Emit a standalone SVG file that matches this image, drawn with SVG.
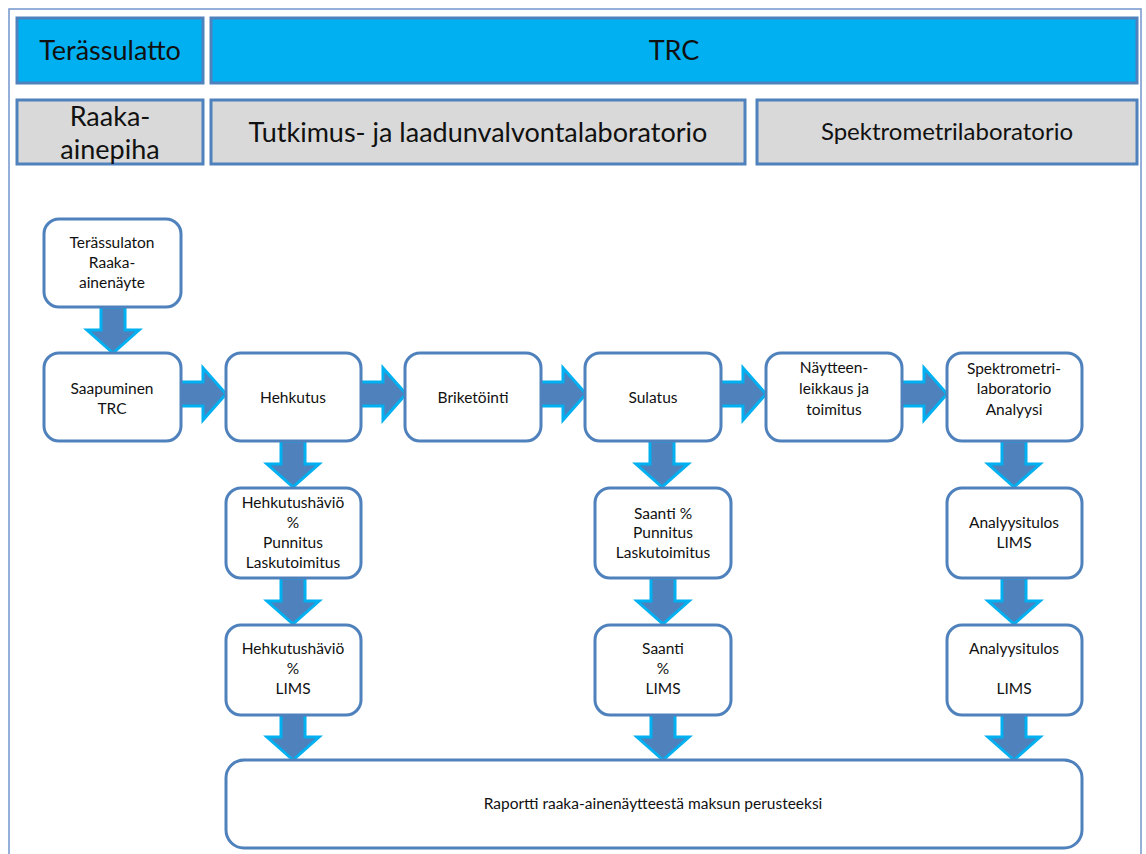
<svg xmlns="http://www.w3.org/2000/svg" xmlns:xlink="http://www.w3.org/1999/xlink" width="1146" height="854" viewBox="0 0 1146 854">
  <style>
    .frame { fill: #ffffff; stroke: #7396CB; stroke-width: 1.5; }
    .hdr { fill: #00B0F0; stroke: #4F81BD; stroke-width: 3; }
    .sub { fill: #D9D9D9; stroke: #4F81BD; stroke-width: 3; }
    .node { fill: #ffffff; stroke: #4F81BD; stroke-width: 3; }
    .arrow { fill: #4F81BD; stroke: #00B0F0; stroke-width: 3; stroke-linejoin: miter; }
    text { font-family: Lato, "Open Sans", "Liberation Sans", sans-serif; fill: #111111; text-anchor: middle; }
    .big { font-size: 27px; }
    .mid { font-size: 24px; }
    .sm { font-size: 15.5px; }
  </style>
  <defs>
    <!-- block arrow pointing down, 46px long, origin at the tail centre -->
    <path id="blk" class="arrow" d="M-12,0 H12 V23 H26 L0,46 L-26,23 H-12 Z"/>
  </defs>

  <rect class="frame" x="9" y="9" width="1132" height="860"/>

  <!-- organisation headers -->
  <g id="hdr-terassulatto">
    <rect class="hdr" x="17" y="18" width="186" height="65"/>
    <text class="big" x="110" y="60">Terässulatto</text>
  </g>
  <g id="hdr-trc">
    <rect class="hdr" x="211" y="18" width="926" height="65"/>
    <text class="big" x="674" y="60">TRC</text>
  </g>
  <g id="hdr-raaka">
    <rect class="sub" x="17" y="100" width="186" height="64"/>
    <text class="big" x="110" y="126">Raaka-</text>
    <text class="big" x="110" y="159">ainepiha</text>
  </g>
  <g id="hdr-tutkimus">
    <rect class="sub" x="211" y="100" width="534" height="64"/>
    <text class="big" x="478" y="142">Tutkimus- ja laadunvalvontalaboratorio</text>
  </g>
  <g id="hdr-spektro">
    <rect class="sub" x="757" y="100" width="380" height="64"/>
    <text class="mid" x="947" y="140">Spektrometrilaboratorio</text>
  </g>

  <!-- connectors -->
  <g id="connectors">
    <use xlink:href="#blk" transform="translate(113,307)"/>
    <use xlink:href="#blk" transform="translate(293,441)"/>
    <use xlink:href="#blk" transform="translate(293,578)"/>
    <use xlink:href="#blk" transform="translate(293,714)"/>
    <use xlink:href="#blk" transform="translate(662,441)"/>
    <use xlink:href="#blk" transform="translate(663,578)"/>
    <use xlink:href="#blk" transform="translate(663,714)"/>
    <use xlink:href="#blk" transform="translate(1014,441)"/>
    <use xlink:href="#blk" transform="translate(1014,578)"/>
    <use xlink:href="#blk" transform="translate(1014,714)"/>
    <use xlink:href="#blk" transform="translate(180,394) rotate(-90)"/>
    <use xlink:href="#blk" transform="translate(360,394) rotate(-90)"/>
    <use xlink:href="#blk" transform="translate(540,394) rotate(-90)"/>
    <use xlink:href="#blk" transform="translate(720,394) rotate(-90)"/>
    <use xlink:href="#blk" transform="translate(901,394) rotate(-90)"/>
  </g>

  <!-- process steps -->
  <g id="n-nayte">
    <rect class="node" x="44" y="219" width="137" height="88" rx="15"/>
    <text class="sm" x="112" y="248">Terässulaton</text>
    <text class="sm" x="112" y="268">Raaka-</text>
    <text class="sm" x="112" y="288">ainenäyte</text>
  </g>
  <g id="n-saapuminen">
    <rect class="node" x="44" y="353" width="137" height="88" rx="15"/>
    <text class="sm" x="112" y="394">Saapuminen</text>
    <text class="sm" x="112" y="414">TRC</text>
  </g>
  <g id="n-hehkutus">
    <rect class="node" x="226" y="353" width="135" height="88" rx="15"/>
    <text class="sm" x="293" y="403">Hehkutus</text>
  </g>
  <g id="n-briketointi">
    <rect class="node" x="405" y="353" width="136" height="88" rx="15"/>
    <text class="sm" x="473" y="403">Briketöinti</text>
  </g>
  <g id="n-sulatus">
    <rect class="node" x="585" y="353" width="136" height="88" rx="15"/>
    <text class="sm" x="653" y="403">Sulatus</text>
  </g>
  <g id="n-leikkaus">
    <rect class="node" x="766" y="353" width="136" height="88" rx="15"/>
    <text class="sm" x="834" y="373">Näytteen-</text>
    <text class="sm" x="834" y="394">leikkaus ja</text>
    <text class="sm" x="834" y="415">toimitus</text>
  </g>
  <g id="n-analyysi">
    <rect class="node" x="947" y="353" width="135" height="88" rx="15"/>
    <text class="sm" x="1014" y="374">Spektrometri-</text>
    <text class="sm" x="1014" y="394">laboratorio</text>
    <text class="sm" x="1014" y="415">Analyysi</text>
  </g>
  <g id="n-havio">
    <rect class="node" x="226" y="488" width="135" height="90" rx="15"/>
    <text class="sm" x="293" y="508">Hehkutushäviö</text>
    <text class="sm" x="293" y="528">%</text>
    <text class="sm" x="293" y="548">Punnitus</text>
    <text class="sm" x="293" y="568">Laskutoimitus</text>
  </g>
  <g id="n-havio-lims">
    <rect class="node" x="226" y="625" width="135" height="90" rx="15"/>
    <text class="sm" x="293" y="654">Hehkutushäviö</text>
    <text class="sm" x="293" y="674">%</text>
    <text class="sm" x="293" y="694">LIMS</text>
  </g>
  <g id="n-saanti">
    <rect class="node" x="595" y="488" width="136" height="90" rx="15"/>
    <text class="sm" x="663" y="519">Saanti %</text>
    <text class="sm" x="663" y="538">Punnitus</text>
    <text class="sm" x="663" y="558">Laskutoimitus</text>
  </g>
  <g id="n-saanti-lims">
    <rect class="node" x="595" y="625" width="136" height="90" rx="15"/>
    <text class="sm" x="663" y="654">Saanti</text>
    <text class="sm" x="663" y="674">%</text>
    <text class="sm" x="663" y="694">LIMS</text>
  </g>
  <g id="n-tulos">
    <rect class="node" x="947" y="488" width="135" height="90" rx="15"/>
    <text class="sm" x="1014" y="528">Analyysitulos</text>
    <text class="sm" x="1014" y="548">LIMS</text>
  </g>
  <g id="n-tulos-lims">
    <rect class="node" x="947" y="625" width="135" height="90" rx="15"/>
    <text class="sm" x="1014" y="654">Analyysitulos</text>
    <text class="sm" x="1014" y="694">LIMS</text>
  </g>
  <g id="n-raportti">
    <rect class="node" x="226" y="760" width="856" height="88" rx="18"/>
    <text class="sm" x="653" y="809">Raportti raaka-ainenäytteestä maksun perusteeksi</text>
  </g>
</svg>
